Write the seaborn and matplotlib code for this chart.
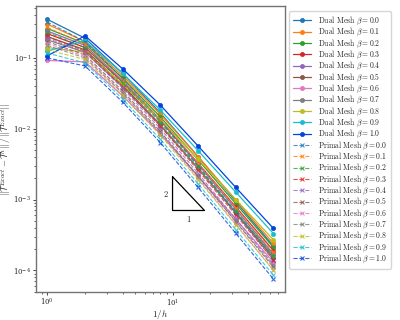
import numpy as np
import pandas as pd
import seaborn as sns
import matplotlib
matplotlib.use("Agg")
import matplotlib.pyplot as plt

# mesh refinement 1/h
inv_h = [1, 2, 4, 8, 16, 32, 64]
betas = ["0.0", "0.1", "0.2", "0.3", "0.4", "0.5", "0.6", "0.7", "0.8", "0.9", "1.0"]

# relative error, dual mesh (one row per beta)
dual_err = [
    [0.35, 0.19, 0.0603, 0.01667, 0.00403, 9.42e-4, 2.2e-4],
    [0.30, 0.17, 0.0557, 0.0160, 0.00403, 9.84e-4, 2.4e-4],
    [0.26, 0.16, 0.0518, 0.01466, 0.00364, 8.73e-4, 2.1e-4],
    [0.22, 0.14, 0.0456, 0.0130, 0.00325, 7.87e-4, 1.9e-4],
    [0.24, 0.15, 0.0473, 0.0130, 0.00313, 7.29e-4, 1.7e-4],
    [0.20, 0.13, 0.0412, 0.0114, 0.00275, 6.43e-4, 1.5e-4],
    [0.092, 0.088, 0.0290, 0.00841, 0.00214, 5.28e-4, 1.3e-4],
    [0.18, 0.12, 0.0389, 0.01107, 0.00275, 6.64e-4, 1.6e-4],
    [0.14, 0.12, 0.0426, 0.01337, 0.00372, 1.0e-3, 2.7e-4],
    [0.125, 0.175, 0.0603, 0.0183, 0.00490, 1.27e-3, 3.3e-4],
    [0.107, 0.205, 0.070, 0.0215, 0.0057, 1.48e-3, 3.9e-4],
]

# relative error, primal mesh
primal_err = [
    [0.32, 0.17, 0.0508, 0.01318, 0.00296, 6.44e-4, 1.4e-4],
    [0.27, 0.155, 0.0491, 0.01358, 0.00329, 7.69e-4, 1.8e-4],
    [0.23, 0.14, 0.0443, 0.01222, 0.00294, 6.85e-4, 1.6e-4],
    [0.20, 0.125, 0.0394, 0.01081, 0.00259, 6.03e-4, 1.4e-4],
    [0.19, 0.12, 0.0371, 0.00998, 0.00234, 5.30e-4, 1.2e-4],
    [0.17, 0.11, 0.0340, 0.00914, 0.00214, 4.85e-4, 1.1e-4],
    [0.16, 0.105, 0.0321, 0.00857, 0.00199, 4.46e-4, 1.0e-4],
    [0.15, 0.10, 0.0316, 0.00875, 0.00211, 4.93e-4, 1.15e-4],
    [0.13, 0.095, 0.0296, 0.00805, 0.00191, 4.38e-4, 1.0e-4],
    [0.117, 0.085, 0.0262, 0.00706, 0.00166, 3.75e-4, 8.5e-5],
    [0.10, 0.077, 0.0237, 0.00634, 0.00148, 3.33e-4, 7.5e-5],
]

colors = list(sns.color_palette("tab10")) + ["#0343df"]

sns.set_style("ticks")
plt.rcParams["mathtext.fontset"] = "cm"
plt.rcParams["font.family"] = ["DejaVu Serif"]

fig, ax = plt.subplots(figsize=(4, 3.2), dpi=100)

for b, err, c in zip(betas, dual_err, colors):
    df = pd.DataFrame({"inv_h": inv_h, "err": err})
    sns.lineplot(data=df, x="inv_h", y="err", ax=ax, color=c, marker="o",
                 markersize=3, markeredgecolor=c, markeredgewidth=0.5,
                 linewidth=0.9,
                 label=r"$\mathrm{Dual\ Mesh}\ \beta = %s$" % b)

for b, err, c in zip(betas, primal_err, colors):
    df = pd.DataFrame({"inv_h": inv_h, "err": err})
    sns.lineplot(data=df, x="inv_h", y="err", ax=ax, color=c, marker="x",
                 markersize=3, markeredgecolor=c, markeredgewidth=0.8,
                 linewidth=0.8, linestyle="--", alpha=0.8,
                 label=r"$\mathrm{Primal\ Mesh}\ \beta = %s$" % b)

ax.set_xscale("log")
ax.set_yscale("log")

# slope-2 triangle
tx = [10, 10, 18, 10]
ty = [2.1e-3, 7e-4, 7e-4, 2.1e-3]
ax.plot(tx, ty, color="black", linewidth=0.9)
ax.text(9.3, 1.2e-3, r"$2$", fontsize=6, ha="right", va="center")
ax.text(13.4, 6.2e-4, r"$1$", fontsize=6, ha="center", va="top")

ax.set_xlabel(r"$1/h$", fontsize=6.5, labelpad=0)
ax.set_ylabel(r"$||\mathcal{T}^{Exact}-\mathcal{T}^h||\,/\,||\mathcal{T}^{Exact}||$",
              fontsize=6.5, labelpad=0)
ax.tick_params(labelsize=5, length=2.5, width=0.6, pad=1)
ax.tick_params(which="minor", length=1.5, width=0.5)
for s in ax.spines.values():
    s.set_color("0.45")
    s.set_linewidth(1.0)

ax.legend(loc="upper left", bbox_to_anchor=(1.0, 1.0), fontsize=5.5,
          handlelength=2.3, labelspacing=-0.12, borderaxespad=0.6,
          handletextpad=0.9, borderpad=0.5, frameon=True)

fig.subplots_adjust(left=0.09, right=0.712, top=0.98, bottom=0.087)
fig.savefig("out.png", dpi=100)
